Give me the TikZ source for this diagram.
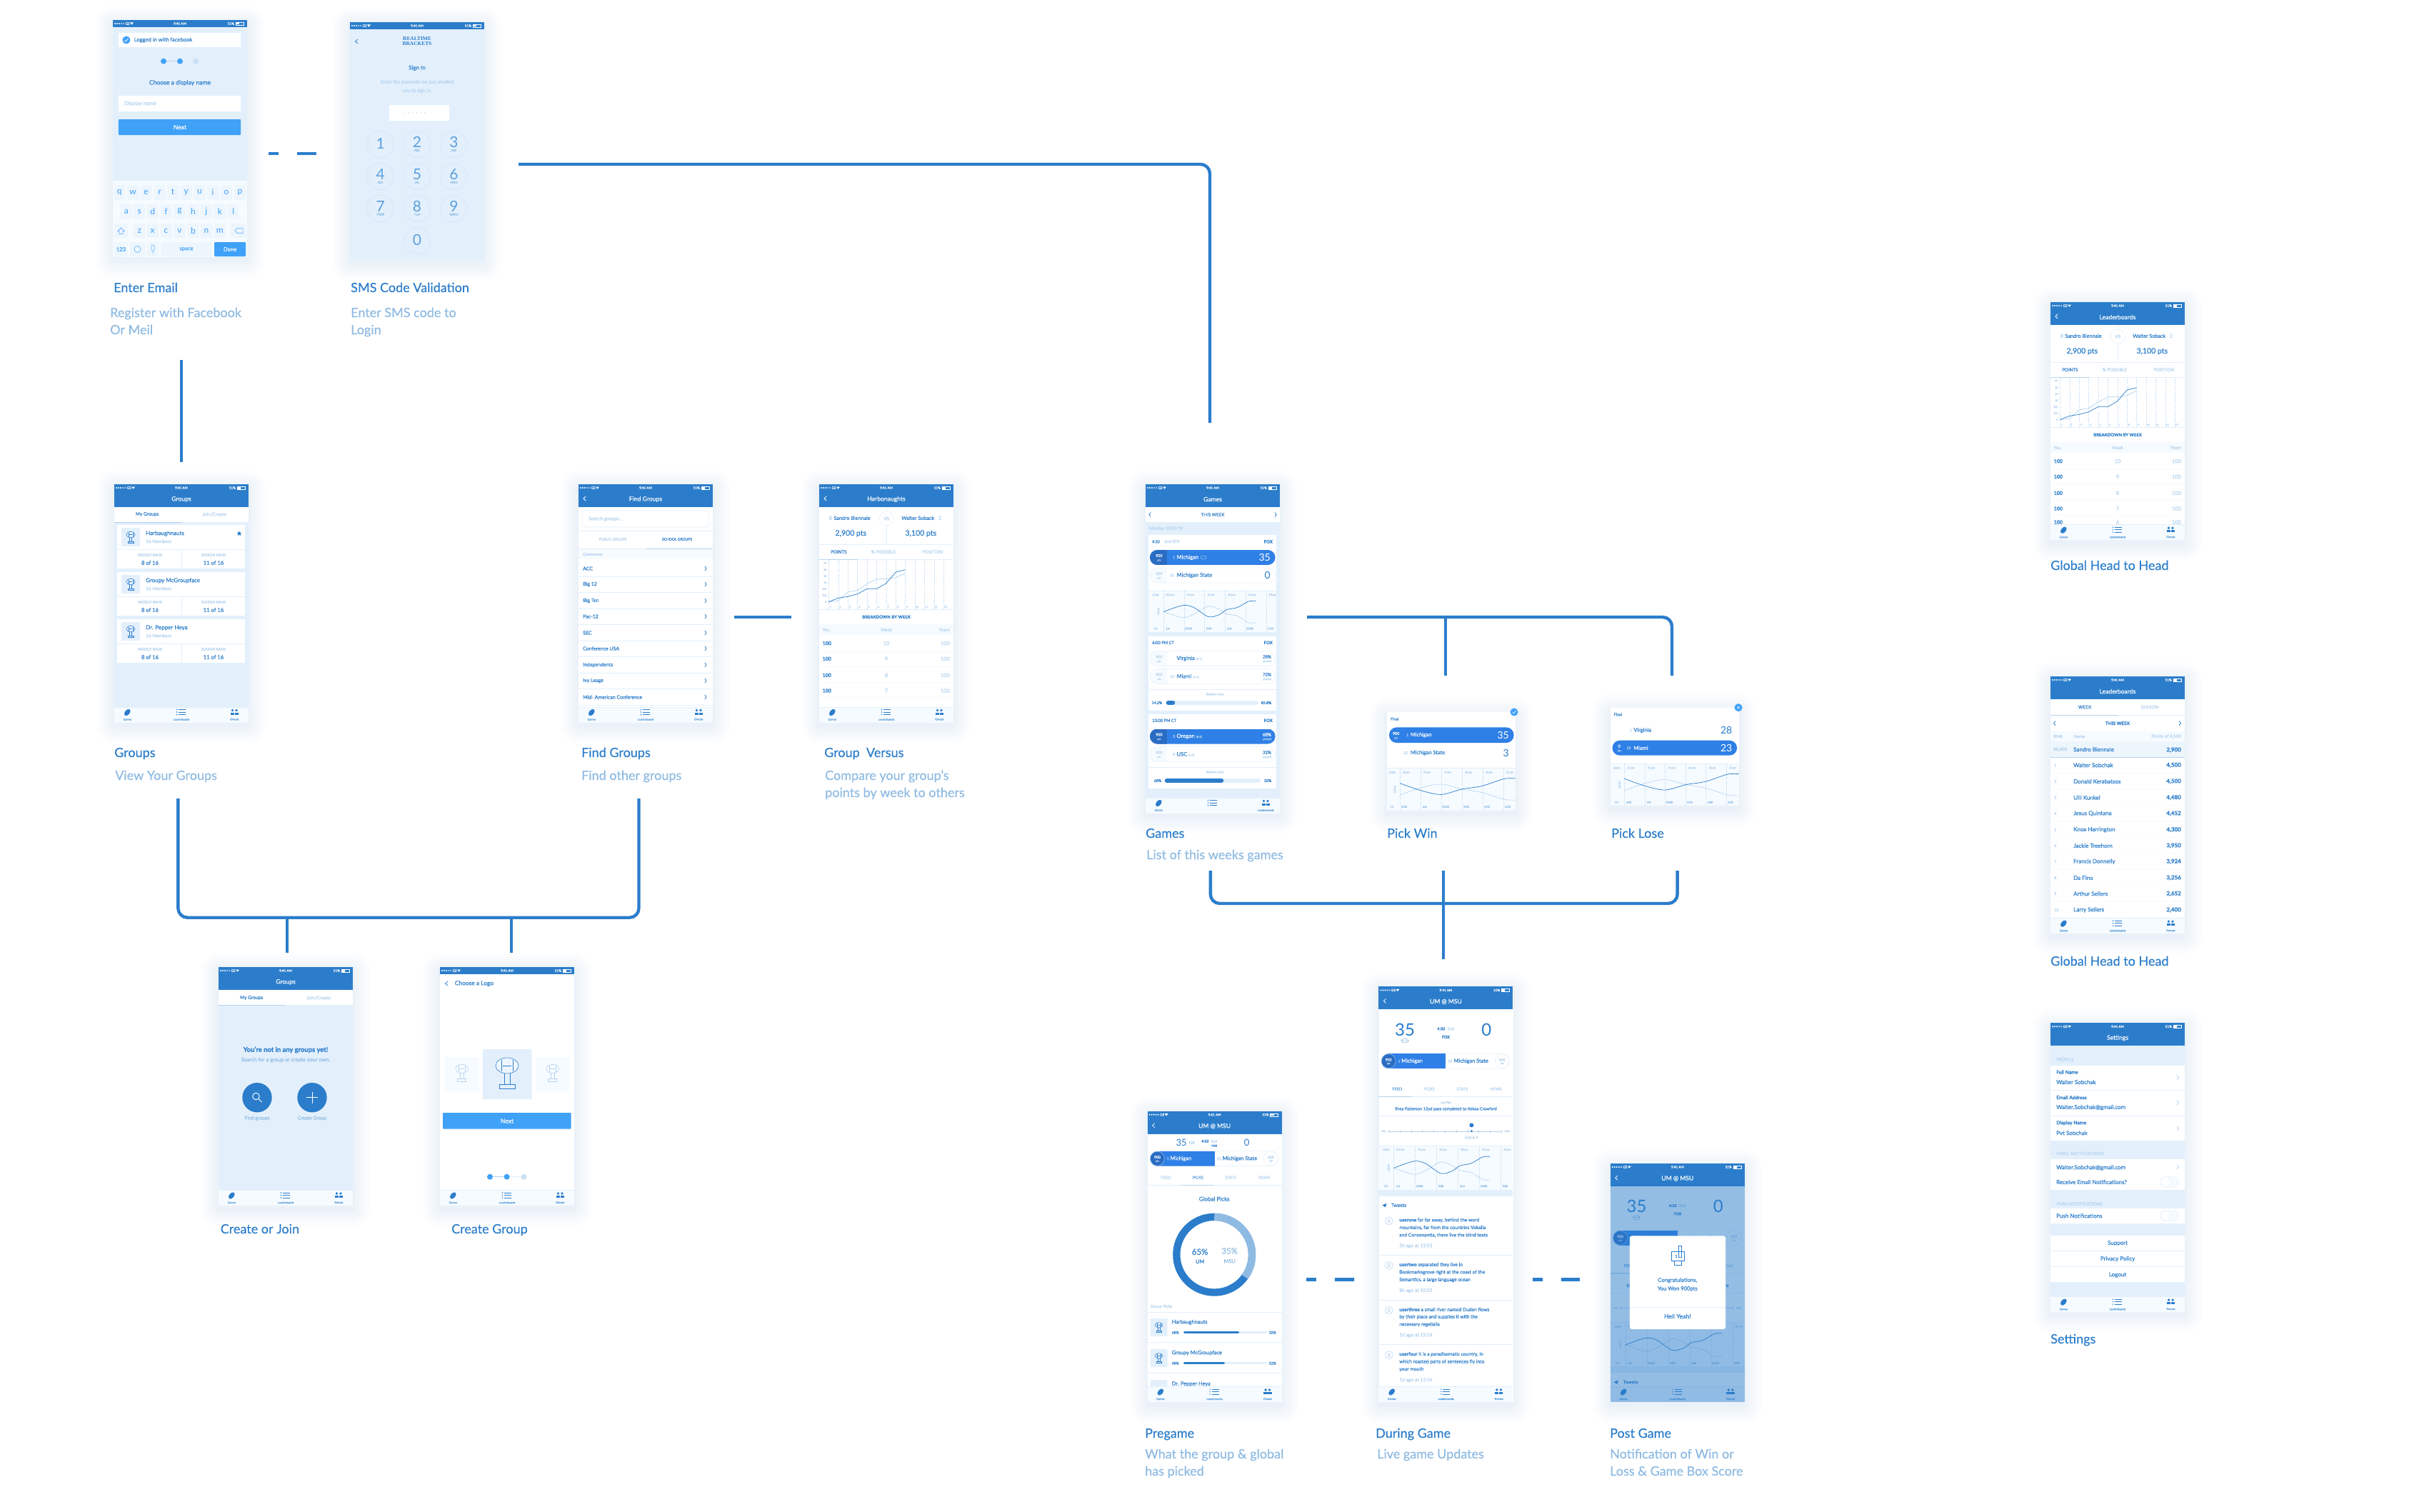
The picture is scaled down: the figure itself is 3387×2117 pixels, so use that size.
\documentclass[tikz,border=0pt]{standalone}
\usepackage{fontspec}
\setmainfont[FakeBold=0.2]{Lato}
\newfontfamily\thinfont{Lato}
\newfontfamily\logofont{Liberation Serif}
\usetikzlibrary{shapes.geometric}
\definecolor{hd}{HTML}{2B7DCB}
\definecolor{lt}{HTML}{E3F0FC}
\definecolor{brt}{HTML}{40A1F8}
\definecolor{pale}{HTML}{B5D3EF}
\definecolor{mdb}{HTML}{5C9FDC}
\definecolor{dsc}{HTML}{8FBBE3}
\definecolor{pil}{HTML}{2F80E6}
\definecolor{pld}{HTML}{2A6CC4}
\definecolor{tbb}{HTML}{F6FBFF}
\definecolor{kbk}{HTML}{EEF6FD}
\tikzset{%
  link/.style = {hd,line width=4.4pt,rounded corners=13pt},
  scr/.style = {rectangle,inner sep=0,anchor=north west},
  sz/.style = {font=\fontsize{#1}{#1}\selectfont},
  tx/.style = {inner sep=0,hd,sz=6},
  lf/.style = {anchor=west},
  rt/.style = {anchor=east},
  capt/.style = {inner sep=0,anchor=base west,hd,sz=18},
  desc/.style = {inner sep=0,anchor=base west,dsc,sz=18},
  rule/.style = {lt,line width=.6pt},
  grid/.style = {pale!75,line width=.3pt,dash pattern=on 1.5pt off 1.2pt},
  chv/.style = {line width=.8pt}
}
\newcounter{tn}
\newcommand\tx[4][]{\stepcounter{tn}\node[tx,#1] (t\arabic{tn}) at (#2,#3) {#4};}
\newcommand\mkphone[6][188]{%
  \foreach \s in {24,20,16,12,8,4,2} {
    \fill[hd,opacity=.01,rounded corners=\s pt] (#3-\s,#4-\s+5) rectangle (#3+#1+\s,#4+#5+\s+5);
  }
  \node[scr,minimum width=#1pt,minimum height=#5pt,fill=#6] (#2) at (#3,#4) {};
}
\newcommand\chevr[4][hd]{\draw[#1,chv] (#2,#3-3) -- (#2+#4,#3) -- (#2,#3+3);}
\newcommand\mkstatus{%
  \fill[hd] (0,0) rectangle (188,10);
  \foreach \x in {3,6,9} \fill[white] (\x,5) circle (1.1);
  \foreach \x in {12,15} \draw[white,line width=.3pt] (\x,5) circle (1);
  \tx[white,sz=4.6,lf]{17.5}{5}{GS}
  \fill[white] (26.5,6.7) -- (24,3.5) -- (29,3.5) -- cycle;
  \tx[white,sz=4.6]{94}{5}{9:41 AM}
  \tx[white,sz=4.6,rt]{170}{5}{51\%}
  \draw[white,line width=.4pt] (172,3) rectangle (183,7);
  \fill[white] (172.5,3.5) rectangle (177,6.5);
}
\newcommand\mknav[2]{%
  \fill[hd] (0,10) rectangle (188,32);
  \tx[white,sz=8.6]{94}{21}{#1}
  \ifnum#2=1 \chevr[white]{10}{20}{-3} \fi
}
\newcommand\mktabs[3]{%
  \fill[tbb] (0,#1) rectangle (188,#1+21.5);
  \draw[rule] (0,#1) -- (188,#1);
  \fill[hd,rotate around={-40:(18.3,#1+7.5)}] (18.3,#1+7.5) ellipse (3.4 and 5.4);
  \foreach \d in {3.5,7,10.5} {
    \fill[hd] (87.5,#1+\d) circle (.8);
    \draw[hd,line width=.8pt] (90,#1+\d) -- (100,#1+\d);
  }
  \fill[hd] (165.5,#1+4.5) circle (1.9);
  \fill[hd] (171,#1+4.5) circle (1.9);
  \fill[hd] (162.5,#1+10.5) rectangle (168,#1+7.5);
  \fill[hd] (168.5,#1+10.5) rectangle (174,#1+7.5);
  \tx[mdb,sz=3.8]{18.3}{#1+17.3}{Games}
  \tx[mdb,sz=3.8]{94}{#1+17.3}{#2}
  \tx[mdb,sz=3.8]{168.3}{#1+17.3}{#3}
}
\newcommand\mkdots[4]{%
  \draw[pale,line width=1pt] (#2,#1) -- (#3,#1);
  \draw[lt,line width=1pt] (#3,#1) -- (#4,#1);
  \fill[brt] (#2,#1) circle (4);
  \fill[brt] (#3,#1) circle (4);
  \fill[pale!70] (#4,#1) circle (4);
}
\newcommand\trophy[4][hd]{%
  \begin{scope}[shift={(#2,#3)},scale=#4]
    \draw[#1,line width=.6pt,fill=white,fill opacity=.4] (0,-6) ellipse (8 and 5.5);
    \draw[#1,line width=.5pt] (-4,-10) -- (-4,-2) (4,-10) -- (4,-2) (-3,-6) -- (3,-6);
    \draw[#1,line width=.6pt] (-2,-.5) -- (-2,7) (2,-.5) -- (2,7);
    \draw[#1,line width=.6pt] (-5.5,7) rectangle (5.5,10);
  \end{scope}
}
\newcommand\curveg{%
  \draw[pale,line width=.6pt] plot[smooth] coordinates {(0,51) (21,65) (32.8,57) (48.7,37.4) (60.5,45) (68.5,56) (80.3,61) (92.2,77) (100,77.5)};
  \draw[hd,line width=.7pt] plot[smooth] coordinates {(0,51) (21,35.5) (32.8,40.5) (48.7,63) (60.5,58) (68.5,46) (80.3,40.5) (92.2,26) (100,25)};
}
\newcommand\curvep{%
  \draw[pale,line width=.6pt] plot[smooth] coordinates {(0,63.9) (17.8,46.8) (35.6,37.8) (53.8,49.7) (70.8,57.5) (89.8,73.7) (100,75.4)};
  \draw[hd,line width=.7pt] plot[smooth] coordinates {(0,35.6) (17.8,52.5) (35.6,62.4) (53.8,49.7) (70.8,42.4) (89.8,25.4) (100,24.2)};
}
\newcommand\oddschart[9]{%
  \fill[tbb] (#1,#3) rectangle (#2,#3+#4);
  \draw[rule] (#1,#3) -- (#2,#3);
  \tx[pale,sz=3.8]{#5-11}{#3+6}{100\%}
  \tx[pale,sz=3.8]{#5-11}{#3+#4-5}{0\%}
  \tx[pale,sz=3.4,rotate=90]{#5-7}{#3+#4/2}{ODDS}
  \foreach \a/\b [count=\i from 0] in {#8} {
    \draw[grid] (#5+\i*#6,#3) -- (#5+\i*#6,#3+#4);
    \tx[pale,sz=3.8]{#5+\i*#6+9}{#3+6}{\a}
    \tx[dsc,sz=3.8]{#5+\i*#6+6}{#3+#4-5}{\b}
  }
  \begin{scope}[shift={(#5,#3)},xscale=#7/100,yscale=#4/100]
    #9
  \end{scope}
}
\newcommand\gamepill[5]{%
  \begin{scope}
    \clip[rounded corners=10.5pt] (#2,#4) rectangle (#3,#4+21);
    \ifnum#1=1
      \fill[pil] (#2,#4) rectangle (#3,#4+21);
      \fill[pld] (#2,#4) rectangle (#2+23.6,#4+21);
    \else
      \fill[white] (#2,#4) rectangle (#3,#4+21);
      \fill[tbb] (#2,#4) rectangle (#2+23.6,#4+21);
    \fi
  \end{scope}
  \ifnum#1=1
    \tx[white,sz=5.2]{#2+12.9}{#4+8}{#5}
    \tx[pale,sz=3.6]{#2+12.9}{#4+14.5}{pts}
  \else
    \draw[lt,line width=.5pt,rounded corners=10.5pt] (#2,#4) rectangle (#3,#4+21);
    \tx[pale,sz=5.2]{#2+12.9}{#4+8}{#5}
    \tx[pale,sz=3.6]{#2+12.9}{#4+14.5}{pts}
  \fi
}
\newcommand\oddsbar[8]{%
  \draw[rule] (4,#1-19) -- (182.7,#1-19);
  \tx[pale,sz=3.8]{97}{#1-12}{Realtime Odds}
  \draw[lt,line width=6.5pt,line cap=round] (#2,#1) -- (#3,#1);
  \draw[hd,line width=6.5pt,line cap=round] (#2,#1) -- (#4,#1);
  \tx[sz=5.2]{#5}{#1}{#6}
  \tx[sz=5.2]{#7}{#1}{#8}
}
\newcommand\pickbar[1]{%
  \draw[lt,line width=.5pt,rounded corners=10pt] (4,#1) rectangle (183,#1+21);
  \begin{scope}
    \clip[rounded corners=10pt] (4,#1) rectangle (183,#1+21);
    \fill[pil] (4,#1) rectangle (94,#1+21);
  \end{scope}
  \fill[pld] (13.8,#1+10.5) circle (10);
  \draw[pale,line width=.4pt] (13.8,#1+10.5) circle (10);
  \tx[white,sz=5]{13.8}{#1+8.5}{900}
  \tx[pale,sz=3.4]{13.8}{#1+14}{pts}
  \tx[pale,sz=5,lf]{27}{#1+10.5}{1}
  \tx[white,sz=7.4,lf]{31.6}{#1+10.5}{Michigan}
  \tx[pale,sz=5,lf]{97}{#1+10.5}{25}
  \tx[sz=7.4,lf]{105}{#1+10.5}{Michigan State}
  \draw[lt,line width=.5pt] (172.8,#1+10.5) circle (10);
  \tx[pale,sz=5]{172.8}{#1+8.5}{600}
  \tx[pale,sz=3.4]{172.8}{#1+14}{pts}
}
\newcommand\tweet[6]{%
  \draw[pale,line width=.5pt] (14.4,#1+1) circle (5.5);
  \draw[pale,line width=.5pt] (14.4,#1) circle (1.8) (11.8,#1+4) -- (14.4,#1+2) -- (17,#1+4);
  \tx[lf,sz=6.7]{28.7}{#1}{{\bfseries #2} #3}
  \tx[lf,sz=6.7]{28.7}{#1+10.5}{#4}
  \tx[lf,sz=6.7]{28.7}{#1+21}{#5}
  \tx[lf,pale,sz=6.7]{28.7}{#1+36}{#6}
}
\newcommand\mkduring{%
  \tx[sz=24]{36.7}{60}{\thinfont 35}
  \draw[hd!60,line width=.5pt] (36.7,75.7) ellipse (5 and 3) (31.7,75.7) -- (41.7,75.7);
  \tx[sz=5.4,rt]{93}{59}{\bfseries 4:32}
  \tx[pale,sz=5.4,lf]{96}{59}{2nd}
  \tx[sz=5.4]{94}{70.5}{\bfseries FOX}
  \tx[sz=24]{151}{60}{\thinfont 0}
  \pickbar{93.8}
  \foreach \x/\kk/\col in {25.8/FEED/mdb,70.6/PICKS/pale,117/STATS/pale,164/NEWS/pale} {
    \tx[\col,sz=5.6]{\x}{143.3}{\kk}
  }
  \draw[rule] (0,153.8) -- (188,153.8);
  \draw[pale,line width=.8pt] (0,153.8) -- (47,153.8);
  \tx[pale,sz=3.8]{94}{162.4}{Last Play}
  \tx[sz=5.8]{94}{171.4}{Shea Patterson 12yd pass completed to  Kekoa Crawford}
  \draw[rule] (0,181) -- (188,181);
  \draw[pale,line width=.5pt] (13.8,202.4) -- (172,202.4);
  \foreach \i in {0,...,10} \draw[pale,line width=.4pt] (13.8+\i*15.8,200.4) -- (13.8+\i*15.8,204.4);
  \tx[pale,sz=3.4]{7}{202.4}{UM}
  \tx[pale,sz=3.4]{180}{202.4}{MSU}
  \fill[hd] (130,194) circle (3);
  \fill[hd] (130,202.4) circle (1.6);
  \tx[pale,sz=5.4]{130}{211}{2nd \& 4}
  \oddschart{0}{188}{222.4}{62}{21}{30}{135}{100\,pts/1st,96\,pts/10:00,92\,pts/5:00,88\,pts/2nd,84\,pts/10:00,80\,pts/5:00}{\curveg}
  \fill[lt] (0,284.4) rectangle (188,293.3);
  \fill[hd] (5,306) -- (11,303.5) -- (9.5,309) -- cycle;
  \tx[lf,sz=6.7]{17.5}{306}{Tweets}
}
\newcommand\mkversus[1]{%
  \mkstatus
  \mknav{#1}{1}
  \draw[rule] (94.3,32) -- (94.3,84);
  \fill[white] (94.3,48) circle (10);
  \draw[rule] (94.3,48) circle (10);
  \tx[pale,sz=6.5]{94.3}{48}{VS}
  \tx[pale,sz=7.4,lf]{13.5}{47.3}{8}
  \tx[sz=7.2,lf]{20.3}{47.3}{Sandro Biennale}
  \tx[sz=7.2,lf]{115}{47.3}{Walter Soback}
  \tx[pale,sz=7.4,lf]{166.5}{47.3}{2}
  \tx[sz=10.5]{44.3}{69}{2,900 pts}
  \tx[sz=10.5]{142.3}{69}{3,100 pts}
  \draw[rule] (0,84) -- (188,84);
  \tx[sz=6.2]{27.3}{94.7}{POINTS}
  \tx[pale,sz=6.2]{90}{94.7}{\% POSSIBLE}
  \tx[pale,sz=6.2]{158.7}{94.7}{POSITION}
  \draw[rule] (0,105.7) -- (188,105.7);
  \draw[pale,line width=.8pt] (0,105.7) -- (53.7,105.7);
  \foreach \i in {1,...,13} {
    \draw[grid] (13.4*\i,105.7) -- (13.4*\i,175.7);
    \tx[pale,sz=3.8]{13.4*\i+2.5}{171.7}{\i}
  }
  \foreach \y/\kk in {110/4K,119.7/3K,128.7/2K,137.7/1K,146.7/500,155.7/200,164.7/0} {
    \tx[pale,sz=3.4,rt]{10.5}{\y}{\kk}
  }
  \draw[pale,line width=.7pt] (13.3,164.7) -- (26.7,163) -- (40.3,151) -- (53.3,148.7) -- (67.3,139.7) -- (80.7,132.7) -- (93.3,132.7) -- (107.3,130.7) -- (120.7,124);
  \draw[hd,line width=.7pt] (13.3,164.7) -- (26.7,159.3) -- (40.3,157.3) -- (53.3,153.7) -- (67.3,146.3) -- (80.7,146.3) -- (93.3,139) -- (107.3,123) -- (120.7,119.7);
  \draw[rule] (0,175.7) -- (188,175.7);
  \tx[sz=6]{94}{185.7}{\bfseries BREAKDOWN BY WEEK}
  \fill[tbb] (0,196) rectangle (188,210.7);
  \tx[pale,sz=6.2,lf]{4.5}{203.7}{You}
  \tx[pale,sz=6.2]{94}{203.7}{Week}
  \tx[pale,sz=6.2,rt]{183}{203.7}{Them}
  \foreach \y/\w in {222.7/10,244.3/9,267.3/8,289/7} {
    \tx[sz=7,lf]{4.5}{\y}{\bfseries 100}
    \tx[pale,sz=7.4]{94}{\y}{\w}
    \tx[pale,sz=7.4,rt]{183}{\y}{100}
  }
  \foreach \y in {234,255,277.7,298} \draw[tbb,line width=.6pt] (0,\y) -- (188,\y);
}
\begin{document}
\begin{tikzpicture}[x=1pt,y=-1pt]
\useasboundingbox[fill=white] (0,0) rectangle (3387,2117);

% enter email
\mkphone{email}{158}{28}{332}{lt}
\begin{scope}[shift={(email.north west)}]
  \mkstatus
  \fill[white] (7.8,18) rectangle (179,38);
  \fill[brt] (18.9,28) circle (5.5);
  \draw[white,line width=.7pt] (16.5,28) -- (18.3,30) -- (21.5,26);
  \tx[lf,sz=7.6]{29.6}{28}{Logged in with facebook}
  \mkdots{57.7}{71}{94}{116}
  \tx[sz=8.6]{94}{88}{Choose a display name}
  \fill[white] (7.8,106) rectangle (179,128);
  \tx[pale,lf,sz=7.6]{16}{117}{Display name}
  \fill[brt,rounded corners=1pt] (7.8,139) rectangle (179,161);
  \tx[white,sz=8.6]{94}{150}{Next}
  \fill[tbb] (0,225.3) rectangle (188,332);
  \foreach \x/\kk in {9.2/q,28/w,46.5/e,65.5/r,84/t,102.6/y,121.5/u,140/i,159/o,178/p} {
    \fill[kbk,rounded corners=1pt] (\x-8,231) rectangle (\x+8,252);
    \tx[brt,sz=12]{\x}{241}{\thinfont\kk}
  }
  \foreach \x/\kk in {18.9/a,37.3/s,55.7/d,74.6/f,93.5/g,112.5/h,130.9/j,149.8/k,168.7/l} {
    \fill[kbk,rounded corners=1pt] (\x-8,258) rectangle (\x+8,278.7);
    \tx[brt,sz=12]{\x}{268}{\thinfont\kk}
  }
  \foreach \x/\kk in {37.3/z,55.7/x,74.6/c,93.5/v,112.5/b,130.9/n,149.8/m} {
    \fill[kbk,rounded corners=1pt] (\x-8,284.7) rectangle (\x+8,305.3);
    \tx[brt,sz=12]{\x}{295}{\thinfont\kk}
  }
  \fill[kbk,rounded corners=1pt] (2,284.7) rectangle (21,305.3);
  \draw[brt,line width=.5pt] (11.5,291) -- (16,295.5) -- (14,295.5) -- (14,299.5) -- (9,299.5) -- (9,295.5) -- (7,295.5) -- cycle;
  \fill[kbk,rounded corners=1pt] (165,284.7) rectangle (186,305.3);
  \draw[brt,line width=.5pt] (171,295) -- (174,291.5) -- (182,291.5) -- (182,298.5) -- (174,298.5) -- cycle;
  \fill[kbk,rounded corners=1pt] (2,311) rectangle (21,331);
  \tx[brt,sz=7.6]{11.5}{321}{123}
  \fill[kbk,rounded corners=1pt] (24,311) rectangle (45,331);
  \draw[brt,line width=.5pt] (34.5,321) circle (4.5);
  \fill[kbk,rounded corners=1pt] (48,311) rectangle (64,331);
  \draw[brt,line width=.5pt,rounded corners=1pt] (54,315) rectangle (58,323) (56,323) -- (56,327);
  \fill[kbk,rounded corners=1pt] (67,311) rectangle (139,331);
  \tx[brt,sz=7.6]{103}{321}{space}
  \fill[brt,rounded corners=1pt] (142,311) rectangle (186,331);
  \tx[white,sz=7.6]{164}{321}{Done}
\end{scope}
\node[capt] (emailcap) at (159,409) {Enter Email};
\node[desc] (emaildes) at (154,444) {Register with Facebook};
\node[desc] (emaildes2) at (154,468) {Or Meil};

% sms code
\mkphone{sms}{490}{31}{333}{lt}
\begin{scope}[shift={(sms.north west)}]
  \mkstatus
  \chevr{11}{27}{-3.5}
  \tx[sz=7.4]{94}{23.3}{\logofont\bfseries REALTIME}
  \tx[sz=7.4]{94}{30}{\logofont\bfseries BRACKETS}
  \tx[sz=8]{94}{64.3}{Sign In}
  \tx[pale,sz=6.6]{94}{84}{Enter the passcode we just emailed}
  \tx[pale,sz=6.6]{94}{96}{you to sign in.}
  \fill[white] (55,115.7) rectangle (139,137.7);
  \foreach \x in {0,...,5} \fill[pale] (77+\x*5.5,126.7) circle (.7);
  \foreach \x/\y/\d/\kk in {94/171/2/ABC,145.4/171/3/DEF,42.7/216/4/GHI,94/216/5/JKL,145.4/216/6/MNO,42.7/261/7/PQRS,94/261/8/TUV,145.4/261/9/WXYZ} {
    \draw[pale!70,line width=.4pt] (\x,\y) circle (18.6);
    \tx[mdb,sz=21]{\x}{\y-3}{\thinfont\d}
    \tx[dsc,sz=4.2]{\x}{\y+8.3}{\kk}
  }
  \foreach \x/\y/\d in {42.7/171/1,94/306.3/0} {
    \draw[pale!70,line width=.4pt] (\x,\y) circle (18.6);
    \tx[mdb,sz=21]{\x}{\y-1}{\thinfont\d}
  }
\end{scope}
\node[capt] (smscap) at (491,409) {SMS Code Validation};
\node[desc] (smsdes) at (491,444) {Enter SMS code to};
\node[desc] (smsdes2) at (491,468) {Login};

% groups
\mkphone{groups}{160}{678}{333}{lt}
\begin{scope}[shift={(groups.north west)}]
  \mkstatus
  \mknav{Groups}{0}
  \fill[white] (0,32) rectangle (188,53);
  \tx[sz=6.6]{46}{42}{My Groups}
  \tx[pale,sz=6.6]{140}{42}{Join/Create}
  \draw[pale,line width=.8pt] (0,53) -- (94,53);
  \foreach \y/\nm in {57/Harbaughnauts,123/Groupy McGroupface,189/Dr. Pepper Heya} {
    \fill[white] (4,\y) rectangle (183,\y+61);
    \draw[rule] (4,\y+34) -- (183,\y+34) (94,\y+34) -- (94,\y+61);
    \fill[lt] (10,\y+4) rectangle (36,\y+30);
    \trophy{23}{\y+18}{.75}
    \tx[lf,sz=8]{44}{\y+12}{\nm}
    \tx[pale,lf,sz=6.4]{44}{\y+23}{16 Members}
    \tx[pale,sz=5]{50}{\y+42}{WEEKLY RANK}
    \tx[sz=7.6]{50}{\y+53}{8 of 16}
    \tx[pale,sz=5]{139}{\y+42}{SEASON RANK}
    \tx[sz=7.6]{139}{\y+53}{11 of 16}
  }
  \tx[star,star points=5,star point ratio=2.3,fill=hd,minimum size=7.5pt]{175}{69}{}
  \mktabs{312}{Leaderboards}{Groups}
\end{scope}
\node[capt] (groupscap) at (160,1060) {Groups};
\node[desc] (groupsdes) at (161,1092) {View Your Groups};

% find groups
\mkphone{findg}{810}{678}{333}{white}
\begin{scope}[shift={(findg.north west)}]
  \mkstatus
  \mknav{Find Groups}{1}
  \draw[lt,line width=.6pt,rounded corners=1.5pt] (6,37) rectangle (182,60);
  \tx[pale,lf,sz=6.8]{14}{48.5}{Search groups...}
  \fill[tbb] (0,90) rectangle (188,105);
  \tx[pale,sz=5]{48}{77}{PUBLIC GROUPS}
  \tx[sz=5]{138}{77}{SCHOOL GROUPS}
  \draw[rule] (0,65) -- (188,65);
  \draw[rule] (0,90) -- (188,90);
  \draw[pale,line width=.8pt] (94,90) -- (188,90);
  \tx[pale,lf,sz=5.4]{6}{98}{Conference}
  \foreach \y/\nm in {118/ACC,140/Big 12,163/Big Ten,185/Pac-12,208/SEC,230/Conference USA,253/Independents,275/Ivy Leage,298/Mid- American Conference} {
    \tx[lf,sz=7]{6}{\y}{\nm}
    \chevr{177}{\y}{2}
    \draw[rule] (0,\y+11) -- (188,\y+11);
  }
  \mktabs{312}{Leaderboards}{Groups}
\end{scope}
\node[capt] (findcap) at (814,1060) {Find Groups};
\node[desc] (finddes) at (814,1092) {Find other groups};

% group versus
\mkphone{versus}{1147}{678}{333}{white}
\begin{scope}[shift={(versus.north west)}]
  \mkversus{Harbonaughts}
  \mktabs{312}{Leaderboards}{Groups}
\end{scope}
\node[capt] (versuscap) at (1154,1060) {Group~ Versus};
\node[desc] (versusdes) at (1155,1092) {Compare your group's};
\node[desc] (versusdes2) at (1155,1116) {points by week to others};

% games
\mkphone{games}{1604}{678}{460}{lt}
\begin{scope}[shift={(games.north west)}]
  \mkstatus
  \mknav{Games}{0}
  \fill[white] (0,32) rectangle (188,53);
  \chevr{7}{42.5}{-2}
  \tx[sz=6.2]{94}{42.5}{THIS WEEK}
  \chevr{181}{42.5}{2}
  \tx[pale,lf,sz=5.6]{4}{61.8}{Saturday  10/20/18}
  \fill[white] (4,71) rectangle (182.7,207);
  \tx[lf,sz=5.4]{9}{80.4}{4:32}
  \tx[pale,lf,sz=5.4]{26}{80.4}{2nd QTR}
  \tx[rt,sz=6]{178}{80.4}{\bfseries FOX}
  \gamepill{1}{6}{181.6}{92}{900}
  \tx[pale,sz=5,lf]{38}{102.5}{1}
  \tx[white,sz=7.6,lf]{43.4}{102.5}{Michigan}
  \draw[pale,line width=.4pt] (81,102.5) ellipse (4 and 2.5);
  \tx[white,sz=14,rt]{175}{102.5}{\thinfont 35}
  \gamepill{0}{6}{181.6}{117}{600}
  \tx[pale,sz=5,lf]{34}{127.5}{25}
  \tx[sz=7.6,lf]{43.4}{127.5}{Michigan State}
  \tx[sz=14,rt]{175}{127.5}{\thinfont 0}
  \oddschart{4}{182.7}{149}{58}{25}{28.8}{129}{100\,pts/1st,96\,pts/10:00,92\,pts/5:00,88\,pts/2nd,84\,pts/10:00,80\,pts/5:00}{\curveg}
  \fill[white] (4,213) rectangle (182.7,317);
  \tx[lf,sz=5.8]{9}{221.8}{6:00 PM CT}
  \tx[rt,sz=6]{178}{221.8}{\bfseries FOX}
  \gamepill{0}{6}{181.6}{233.6}{900}
  \tx[sz=7.6,lf]{43.4}{244}{Virginia \textcolor{pale}{\fontsize{4}{4}\selectfont(3-1)}}
  \tx[sz=6,rt]{176}{241.5}{28\%}
  \tx[pale,sz=4,rt]{176}{248}{picked}
  \gamepill{0}{6}{181.6}{258.5}{900}
  \tx[pale,sz=5,lf]{34}{269}{13}
  \tx[sz=7.6,lf]{43.4}{269}{Miami \textcolor{pale}{\fontsize{4}{4}\selectfont(4-1)}}
  \tx[sz=6,rt]{176}{266.5}{72\%}
  \tx[pale,sz=4,rt]{176}{273}{picked}
  \oddsbar{306}{32}{155}{38}{16}{14.2\%}{169}{85.8\%}
  \fill[white] (4,321.8) rectangle (182.7,426);
  \tx[lf,sz=5.8]{9}{330.7}{10:00 PM CT}
  \tx[rt,sz=6]{178}{330.7}{\bfseries FOX}
  \gamepill{1}{6}{181.6}{342.5}{900}
  \tx[pale,sz=5,lf]{38}{353}{3}
  \tx[white,sz=7.6,lf]{43.4}{353}{Oregon \textcolor{pale}{\fontsize{4}{4}\selectfont(8-0)}}
  \tx[white,sz=6,rt]{176}{350.5}{68\%}
  \tx[pale,sz=4,rt]{176}{357}{picked}
  \gamepill{0}{6}{181.6}{367.5}{900}
  \tx[pale,sz=5,lf]{38}{378}{8}
  \tx[sz=7.6,lf]{43.4}{378}{USC \textcolor{pale}{\fontsize{4}{4}\selectfont(4-3)}}
  \tx[sz=6,rt]{176}{375.5}{32\%}
  \tx[pale,sz=4,rt]{176}{382}{picked}
  \oddsbar{415}{30}{158}{106}{17}{68\%}{171}{32\%}
  \mktabs{439}{}{Leaderboards}
\end{scope}
\node[capt] (gamescap) at (1604,1173) {Games};
\node[desc] (gamesdes) at (1605,1203) {List of this weeks games};

% pick win
\mkphone[180]{win}{1942}{997}{137.5}{white}
\begin{scope}[shift={(win.north west)}]
  \tx[lf,sz=5.4]{5}{9.6}{Final}
  \fill[pil,rounded corners=10.5pt] (3,21.4) rectangle (177.6,43);
  \tx[white,sz=5.2]{12.7}{30}{900}
  \tx[pale,sz=3.6]{12.7}{36.5}{pts}
  \tx[pale,sz=5,lf]{27}{32}{1}
  \tx[white,sz=7.4,lf]{32.7}{32}{Michigan}
  \tx[white,sz=14,rt]{171}{32}{\thinfont 35}
  \tx[pale,sz=5,lf]{23}{57}{25}
  \tx[sz=7.4,lf]{32.7}{57}{Michigan State}
  \tx[sz=14,rt]{171}{57}{\thinfont 3}
  \oddschart{0}{180}{78.6}{59}{18}{29}{162}{60\,pts/5:00,52\,pts/4th,44\,pts/12:00,36\,pts/9:00,28\,pts/5:00,20\,pts/2:00}{\curvep}
  \fill[brt] (178,0) circle (5.5);
  \draw[white,line width=.6pt] (175.5,0) -- (177.5,2) -- (180.5,-2);
\end{scope}
\node[capt] (wincap) at (1942,1173) {Pick Win};

% pick lose
\mkphone[180]{lose}{2254.5}{990.7}{137.3}{white}
\begin{scope}[shift={(lose.north west)}]
  \tx[lf,sz=5.4]{5}{9.6}{Final}
  \tx[pale,sz=5,lf]{27}{31.8}{1}
  \tx[sz=7.4,lf]{32.7}{31.8}{Virginia}
  \tx[sz=14,rt]{171}{31.8}{\thinfont 28}
  \fill[pil,rounded corners=10.5pt] (3,46) rectangle (177.6,67);
  \tx[white,sz=5.2]{12.7}{54}{0}
  \tx[pale,sz=3.6]{12.7}{60.5}{pts}
  \tx[pale,sz=5,lf]{23}{56.5}{25}
  \tx[white,sz=7.4,lf]{32.7}{56.5}{Miami}
  \tx[white,sz=14,rt]{171}{56.5}{\thinfont 23}
  \oddschart{0}{180}{78.6}{59}{20}{28.5}{160}{60\,pts/5:00,52\,pts/4th,44\,pts/10:00,36\,pts/9:00,28\,pts/5:00,20\,pts/2:00}{\curvep}
  \fill[brt] (179.5,0) circle (5.5);
  \draw[white,line width=.6pt] (177.8,-1.7) -- (181.2,1.7) (177.8,1.7) -- (181.2,-1.7);
\end{scope}
\node[capt] (losecap) at (2256,1173) {Pick Lose};

% create or join
\mkphone{join}{306}{1354}{334}{lt}
\begin{scope}[shift={(join.north west)}]
  \mkstatus
  \mknav{Groups}{0}
  \fill[white] (0,32) rectangle (188,53);
  \tx[sz=6.6]{46}{43}{My Groups}
  \tx[pale,sz=6.6]{140}{43}{Join/Create}
  \draw[pale,line width=1pt] (0,53) -- (94,53);
  \tx[sz=9.4]{94}{116}{\bfseries You're not in any groups yet!}
  \tx[dsc,sz=7.4]{94}{130}{Search for a group or create your own.}
  \fill[hd] (54,182.7) circle (20.7);
  \draw[white,line width=.9pt] (52.5,181) circle (4.8) (56,184.5) -- (60.5,189);
  \fill[hd] (131,182.7) circle (20.7);
  \draw[white,line width=.9pt] (123,182.7) -- (139,182.7) (131,174.7) -- (131,190.7);
  \tx[dsc,sz=6.8]{54}{211.7}{Find groups}
  \tx[dsc,sz=6.8]{131}{211.7}{Create Group}
  \mktabs{312.5}{Leaderboards}{Groups}
\end{scope}
\node[capt] (joincap) at (308.6,1727) {Create or Join};

% create group
\mkphone{create}{616}{1354}{334}{white}
\begin{scope}[shift={(create.north west)}]
  \mkstatus
  \chevr{11}{23}{-3.5}
  \tx[lf,sz=8.4]{20.7}{23}{Choose a Logo}
  \fill[tbb,rounded corners=1pt] (6.8,126) rectangle (54.6,174);
  \fill[lt,rounded corners=1pt] (59.6,115) rectangle (128.6,185);
  \fill[tbb,rounded corners=1pt] (134,126) rectangle (181.4,174);
  \trophy[pale]{30.7}{149}{1.1}
  \trophy{94}{150}{2}
  \trophy[pale]{157.7}{149}{1.1}
  \fill[brt,rounded corners=1pt] (4,204) rectangle (183.6,226.7);
  \tx[white,sz=8.6]{94}{215.5}{Next}
  \mkdots{293.7}{70}{93.6}{117.5}
  \mktabs{312.5}{Leaderboards}{Groups}
\end{scope}
\node[capt] (createcap) at (632,1727) {Create Group};

% pregame
\mkphone{pre}{1606.6}{1555.7}{407.3}{white}
\begin{scope}[shift={(pre.north west)}]
  \mkstatus
  \mknav{UM @ MSU}{1}
  \tx[sz=13]{47.6}{44}{\thinfont 35}
  \draw[hd!60,line width=.4pt] (62,44) ellipse (3.5 and 2) (58.5,44) -- (65.5,44);
  \tx[rt,sz=5]{86}{42}{\bfseries 4:32}
  \tx[pale,lf,sz=5]{89}{42}{2nd}
  \tx[sz=3.8]{93.6}{48.5}{\bfseries FOX}
  \tx[sz=13]{139}{44}{\thinfont 0}
  \pickbar{56}
  \foreach \x/\kk/\col in {25.8/FEED/pale,70.6/PICKS/mdb,116.5/STATS/pale,163.6/NEWS/pale} {
    \tx[\col,sz=5.6]{\x}{92.9}{\kk}
  }
  \draw[rule] (0,103.3) -- (188,103.3);
  \draw[pale,line width=.8pt] (46.5,103.3) -- (93.6,103.3);
  \tx[sz=8]{93.6}{122.9}{Global Picks}
  \begin{scope}[shift={(93.6,201)},y=1pt]
    \draw[hd,line width=10.3pt] (0,0) circle (52.85);
    \draw[dsc,line width=10.3pt] (90:52.85) arc (90:-36:52.85);
  \end{scope}
  \tx[sz=11.5]{73.5}{197}{65\%}
  \tx[sz=7.4]{73.5}{210.5}{UM}
  \tx[dsc,sz=11.5]{115}{195.7}{35\%}
  \tx[dsc,sz=7.4]{115}{210}{MSU}
  \tx[pale,lf,sz=5.8]{4}{273.8}{Group Picks}
  \draw[rule] (0,281.4) -- (188,281.4);
  \foreach \y/\nm/\e/\a/\b in {290.5/Harbaughnauts/127/68\%/32\%,333.5/Groupy McGroupface/106.8/48\%/52\%} {
    \fill[lt,rounded corners=1pt] (4,\y) rectangle (28,\y+25);
    \trophy{16}{\y+13}{.65}
    \tx[lf,sz=7.4]{34}{\y+5}{\nm}
    \tx[sz=5,lf]{34}{\y+19.5}{\a}
    \draw[lt,line width=3.4pt,line cap=round] (52,\y+19.5) -- (166,\y+19.5);
    \draw[hd,line width=3.4pt,line cap=round] (52,\y+19.5) -- (\e,\y+19.5);
    \tx[sz=5,lf]{170}{\y+19.5}{\b}
    \draw[rule] (0,\y+33.5) -- (188,\y+33.5);
  }
  \fill[lt,rounded corners=1pt] (4,376.5) rectangle (28,400);
  \tx[lf,sz=7.4]{34}{382}{Dr. Pepper Heya}
  \mktabs{385.8}{Leaderboards}{Groups}
\end{scope}
\node[capt] (precap) at (1603,2013) {Pregame};
\node[desc] (predes) at (1603,2042) {What the group \& global};
\node[desc] (predes2) at (1603,2066) {has picked};

% during game
\mkphone{during}{1930.4}{1381.4}{581.6}{white}
\begin{scope}[shift={(during.north west)}]
  \mkstatus
  \mknav{UM @ MSU}{1}
  \mkduring
  \tweet{327}{userone}{far far away, behind the word}{mountains, far from the countries Vokalia}{and Consonantia, there live the blind texts}{5h ago at 13:53}
  \draw[rule] (0,375.7) -- (188,375.7);
  \tweet{389.5}{usertwo}{separated they live in}{Bookmarksgrove right at the coast of the}{Semantics, a large language ocean}{8h ago at 10:53}
  \draw[rule] (0,439) -- (188,439);
  \tweet{452}{userthree}{a small river named Duden flows}{by their place and supplies it with the}{necessary regelialia}{1d ago at 13:14}
  \draw[rule] (0,501) -- (188,501);
  \tweet{514.8}{userfour}{it is a paradisematic country, in}{which roasted parts of sentences fly into}{your mouth}{1d ago at 12:56}
  \mktabs{560}{Leaderboards}{Groups}
\end{scope}
\node[capt] (duringcap) at (1926,2013) {During Game};
\node[desc] (duringdes) at (1928,2042) {Live game Updates};

% post game
\mkphone{post}{2254.8}{1629}{334}{white}
\begin{scope}[shift={(post.north west)}]
  \mkduring
  \fill[white] (0,311) rectangle (188,334);
  \mktabs{312.5}{Leaderboards}{Groups}
  \fill[hd,opacity=.5] (0,32) rectangle (188,334);
  \mkstatus
  \mknav{UM @ MSU}{1}
  \fill[white,rounded corners=3pt] (27,101.4) rectangle (161.3,232);
  \draw[hd,line width=.6pt,fill=white] (95,115) rectangle (99.5,131) (85,123) rectangle (103,136) (89,136) rectangle (99,142);
  \tx[sz=5.5]{92}{130}{1}
  \tx[sz=7.6]{94}{163.6}{Congratulations,}
  \tx[sz=7.6]{94}{175.5}{You Won 900pts}
  \draw[rule] (27,200.8) -- (161.3,200.8);
  \tx[sz=8.6]{94}{214}{Hell Yeah!}
\end{scope}
\node[capt] (postcap) at (2254,2013) {Post Game};
\node[desc] (postdes) at (2254,2042) {Notification of Win or};
\node[desc] (postdes2) at (2254,2066) {Loss \& Game Box Score};

% leaderboards, versus
\mkphone{headone}{2871}{423}{333}{white}
\begin{scope}[shift={(headone.north west)}]
  \mkversus{Leaderboards}
  \tx[sz=7,lf]{4.5}{308}{\bfseries 100}
  \tx[pale,sz=7.4]{94}{308}{6}
  \tx[pale,sz=7.4,rt]{183}{308}{100}
  \mktabs{311.7}{Leaderboards}{Groups}
\end{scope}
\node[capt] (headonecap) at (2871,798) {Global Head to Head};

% leaderboards, week
\mkphone{headtwo}{2871}{947}{360}{white}
\begin{scope}[shift={(headtwo.north west)}]
  \mkstatus
  \mknav{Leaderboards}{0}
  \tx[sz=6.4]{48}{43}{WEEK}
  \tx[pale,sz=6.4]{139}{43}{SEASON}
  \draw[rule] (0,54.7) -- (188,54.7);
  \draw[pale,line width=.8pt] (0,54.7) -- (94,54.7);
  \chevr{7}{65.7}{-2.5}
  \tx[sz=6.4]{94}{65.7}{\bfseries THIS WEEK}
  \chevr{180}{65.7}{2.5}
  \fill[tbb] (0,76.7) rectangle (188,91);
  \tx[pale,lf,sz=6.2]{4}{84}{RNK}
  \tx[pale,lf,sz=6.2]{32}{84}{Name}
  \tx[pale,rt,sz=6.2]{183}{84}{Points of 4,500}
  \fill[lt!60] (0,91) rectangle (188,113.3);
  \draw[pale,line width=.8pt] (0,113.3) -- (188,113.3);
  \tx[pale,lf,sz=6.2]{4}{102.3}{88,888}
  \tx[lf,sz=8]{32}{102.3}{Sandro Biennale}
  \tx[rt,sz=8]{183}{103}{\bfseries 2,900}
  \foreach \y/\r/\nm/\p in {124.3/1/Walter Sobchak/{4,500},147/2/Donald Kerabatsos/{4,500},169.7/3/Ulli Kunkel/{4,480},192/4/Jesus Quintana/{4,452},214.7/5/Knox Harrington/{4,300},237/6/Jackie Treehorn/{3,950},259.3/7/Francis Donnelly/{3,924},282/8/Da Fino/{3,256},304.3/9/Arthur Sellers/{2,652},327/10/Larry Sellers/{2,400}} {
    \tx[pale,lf,sz=5.4]{5}{\y}{\r}
    \tx[lf,sz=8]{32}{\y}{\nm}
    \tx[rt,sz=8]{183}{\y}{\bfseries \p}
    \draw[tbb,line width=.6pt] (0,\y+11.2) -- (188,\y+11.2);
  }
  \mktabs{338.7}{Leaderboards}{Groups}
\end{scope}
\node[capt] (headtwocap) at (2871,1352) {Global Head to Head};

% settings
\mkphone{sett}{2871}{1432.3}{404.4}{lt}
\begin{scope}[shift={(sett.north west)}]
  \mkstatus
  \mknav{Settings}{0}
  \tx[pale,lf,sz=6.2]{8}{51}{PROFILE}
  \fill[white] (0,59.3) rectangle (188,164.3);
  \foreach \y/\a/\b in {68.7/Full Name/Walter Sobchak,104.3/Email Address/Walter.Sobchak@gmail.com,140/Display Name/Pvt Sobchak} {
    \tx[lf,sz=6.8]{8}{\y}{\bfseries \a}
    \tx[lf,sz=8]{8}{\y+14}{\b}
    \chevr[pale]{177}{\y+7.5}{2.5}
  }
  \draw[rule] (0,94) -- (188,94) (0,129.7) -- (188,129.7);
  \tx[pale,lf,sz=6.2]{8}{182.7}{EMAIL NOTIFICATIONS}
  \fill[white] (0,190.7) rectangle (188,233.7);
  \tx[lf,sz=8]{8}{202.7}{Walter.Sobchak@gmail.com}
  \chevr[pale]{177}{201.5}{2.5}
  \tx[lf,sz=8]{8}{222.7}{Receive Email Notifications?}
  \tx[pale,lf,sz=6.2]{8}{253.3}{PUSH NOTIFICATIONS}
  \fill[white] (0,259.7) rectangle (188,280.7);
  \tx[lf,sz=8]{8}{270}{Push Notifications}
  \foreach \y in {222.7,270} {
    \draw[lt,fill=tbb,line width=.4pt,rounded corners=7pt] (154,\y-7.5) rectangle (179.3,\y+7.5);
    \fill[white] (161.5,\y) circle (7);
    \draw[lt,line width=.5pt] (161.5,\y) circle (7);
  }
  \fill[white] (0,297.7) rectangle (188,362.7);
  \tx[sz=8]{94}{308.3}{Support}
  \tx[sz=8]{94}{330.3}{Privacy Policy}
  \tx[sz=8]{94}{352.7}{Logout}
  \draw[rule] (0,319) -- (188,319) (0,341) -- (188,341);
  \mktabs{383.3}{Leaderboards}{Groups}
\end{scope}
\node[capt] (settcap) at (2871,1881) {Settings};

% connectors
\coordinate (smsout) at (726,230);
\coordinate (smscorner) at (1694,230);
\coordinate (gamesin) at (1694,592);
\draw[link] (smsout) -- (smscorner) -- (gamesin);
\coordinate (emailout) at (376,215);
\coordinate (smsin) at (443,215);
\draw[link,dash pattern=on 14pt off 26pt on 27pt off 0pt] (emailout) -- (smsin);
\coordinate (emaildown) at (254,504);
\coordinate (groupsin) at (254,647);
\draw[link] (emaildown) -- (groupsin);
\coordinate (findout) at (1028,864);
\coordinate (versusin) at (1108,864);
\draw[link] (findout) -- (versusin);
\coordinate (groupsout) at (249.4,1118);
\coordinate (groupscorner) at (249.4,1284.7);
\coordinate (findcorner) at (894.5,1284.7);
\coordinate (finddown) at (894.5,1118);
\draw[link] (groupsout) -- (groupscorner) -- (findcorner) -- (finddown);
\coordinate (joinbranch) at (401.8,1284.7);
\coordinate (joinin) at (401.8,1334);
\coordinate (createbranch) at (716,1284.7);
\coordinate (createin) at (716,1334);
\draw[link] (joinbranch) -- (joinin);
\draw[link] (createbranch) -- (createin);
\coordinate (gamesout) at (1830,864);
\coordinate (losecorner) at (2341,864);
\coordinate (losein) at (2341,946);
\coordinate (winbranch) at (2024,864);
\coordinate (winin) at (2024,946);
\draw[link] (gamesout) -- (losecorner) -- (losein);
\draw[link] (winbranch) -- (winin);
\coordinate (gamesdown) at (1694.8,1219);
\coordinate (gamescorner) at (1694.8,1265);
\coordinate (losecorner2) at (2348.6,1265);
\coordinate (losedown) at (2348.6,1219);
\draw[link] (gamesdown) -- (gamescorner) -- (losecorner2) -- (losedown);
\coordinate (windown) at (2021,1219);
\coordinate (duringin) at (2021,1343);
\draw[link] (windown) -- (duringin);
\coordinate (preout) at (1829.4,1791.4);
\coordinate (durin) at (1896,1791.4);
\draw[link,dash pattern=on 13.6pt off 26pt on 27pt off 0pt] (preout) -- (durin);
\coordinate (durout) at (2146,1791.4);
\coordinate (postin) at (2212,1791.4);
\draw[link,dash pattern=on 13.5pt off 26.5pt on 26pt off 0pt] (durout) -- (postin);
\end{tikzpicture}
\end{document}
